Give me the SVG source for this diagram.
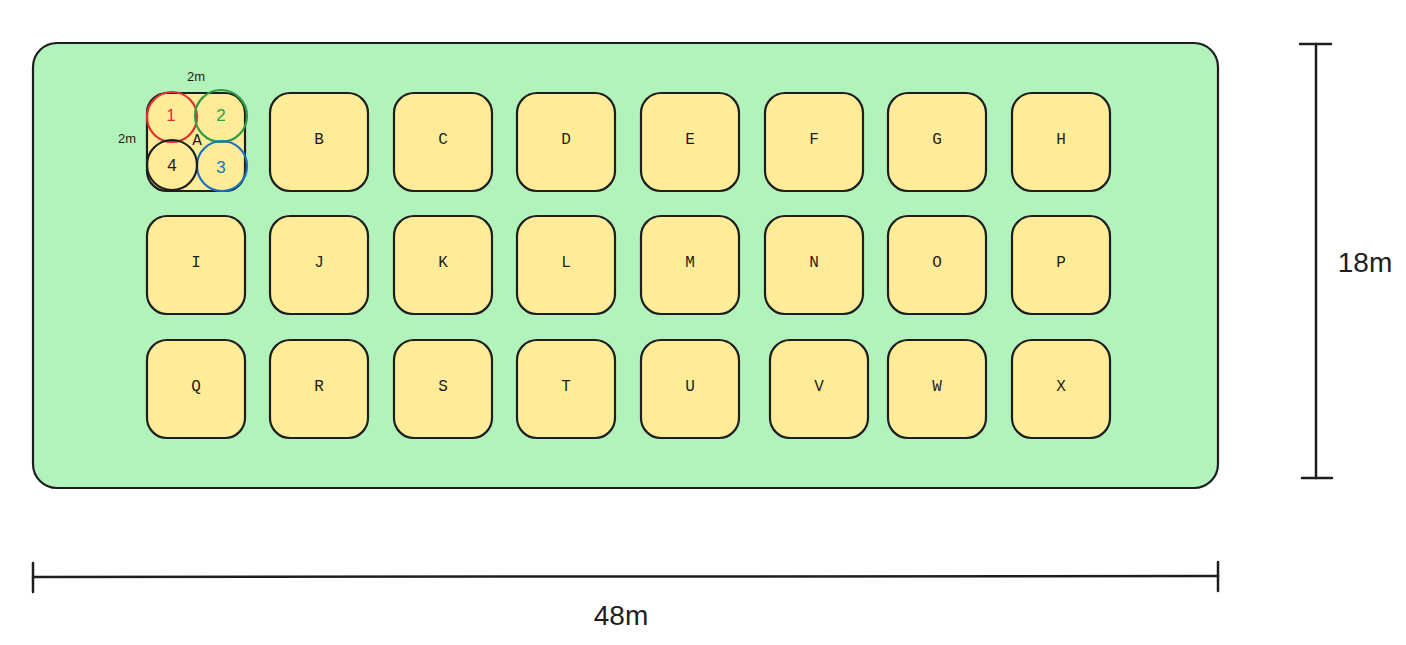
<svg xmlns="http://www.w3.org/2000/svg" width="1406" height="645" viewBox="0 0 1406 645">
<style>
.cell{fill:#ffec99;stroke:#1e1e1e;stroke-width:2.2}
.lbl{font-family:"Liberation Mono",monospace;font-size:16px;fill:#1e1e1e;text-anchor:middle;dominant-baseline:central}
.num{font-family:"Liberation Sans",sans-serif;font-size:17px;text-anchor:middle;dominant-baseline:central}
.dim{font-family:"Liberation Sans",sans-serif;fill:#1e1e1e;text-anchor:middle;dominant-baseline:central}
.ln{stroke:#1e1e1e;stroke-width:2.5;fill:none;stroke-linecap:round}
.circ{fill:none;stroke-width:2.2}
</style>
<rect id="site" x="33" y="43" width="1185" height="445" rx="24" fill="#b2f2bb" stroke="#1e1e1e" stroke-width="2.2"/>
<g id="cell-A">
<rect class="cell" x="147" y="93" width="98" height="98" rx="20"/>
<circle class="circ" cx="172" cy="117" r="25" stroke="#e03131"/>
<circle class="circ" cx="221" cy="116" r="26" stroke="#2f9e44"/>
<circle class="circ" cx="222" cy="166" r="25" stroke="#1971c2"/>
<circle class="circ" cx="172" cy="165" r="25" stroke="#1e1e1e"/>
<text class="num" x="171" y="115" fill="#e03131">1</text>
<text class="num" x="221" y="115" fill="#2f9e44">2</text>
<text class="num" x="221" y="167" fill="#1971c2">3</text>
<text class="num" x="172" y="165" fill="#1e1e1e">4</text>
<text class="lbl" x="197" y="141" font-size="13">A</text>
<text class="dim" x="196" y="76" font-size="13">2m</text>
<text class="dim" x="127" y="138" font-size="13">2m</text>
</g>
<g id="cell-B"><rect class="cell" x="270" y="93" width="98" height="98" rx="20"/><text class="lbl" x="319" y="140">B</text></g>
<g id="cell-C"><rect class="cell" x="394" y="93" width="98" height="98" rx="20"/><text class="lbl" x="443" y="140">C</text></g>
<g id="cell-D"><rect class="cell" x="517" y="93" width="98" height="98" rx="20"/><text class="lbl" x="566" y="140">D</text></g>
<g id="cell-E"><rect class="cell" x="641" y="93" width="98" height="98" rx="20"/><text class="lbl" x="690" y="140">E</text></g>
<g id="cell-F"><rect class="cell" x="765" y="93" width="98" height="98" rx="20"/><text class="lbl" x="814" y="140">F</text></g>
<g id="cell-G"><rect class="cell" x="888" y="93" width="98" height="98" rx="20"/><text class="lbl" x="937" y="140">G</text></g>
<g id="cell-H"><rect class="cell" x="1012" y="93" width="98" height="98" rx="20"/><text class="lbl" x="1061" y="140">H</text></g>
<g id="cell-I"><rect class="cell" x="147" y="216" width="98" height="98" rx="20"/><text class="lbl" x="196" y="263">I</text></g>
<g id="cell-J"><rect class="cell" x="270" y="216" width="98" height="98" rx="20"/><text class="lbl" x="319" y="263">J</text></g>
<g id="cell-K"><rect class="cell" x="394" y="216" width="98" height="98" rx="20"/><text class="lbl" x="443" y="263">K</text></g>
<g id="cell-L"><rect class="cell" x="517" y="216" width="98" height="98" rx="20"/><text class="lbl" x="566" y="263">L</text></g>
<g id="cell-M"><rect class="cell" x="641" y="216" width="98" height="98" rx="20"/><text class="lbl" x="690" y="263">M</text></g>
<g id="cell-N"><rect class="cell" x="765" y="216" width="98" height="98" rx="20"/><text class="lbl" x="814" y="263">N</text></g>
<g id="cell-O"><rect class="cell" x="888" y="216" width="98" height="98" rx="20"/><text class="lbl" x="937" y="263">O</text></g>
<g id="cell-P"><rect class="cell" x="1012" y="216" width="98" height="98" rx="20"/><text class="lbl" x="1061" y="263">P</text></g>
<g id="cell-Q"><rect class="cell" x="147" y="340" width="98" height="98" rx="20"/><text class="lbl" x="196" y="387">Q</text></g>
<g id="cell-R"><rect class="cell" x="270" y="340" width="98" height="98" rx="20"/><text class="lbl" x="319" y="387">R</text></g>
<g id="cell-S"><rect class="cell" x="394" y="340" width="98" height="98" rx="20"/><text class="lbl" x="443" y="387">S</text></g>
<g id="cell-T"><rect class="cell" x="517" y="340" width="98" height="98" rx="20"/><text class="lbl" x="566" y="387">T</text></g>
<g id="cell-U"><rect class="cell" x="641" y="340" width="98" height="98" rx="20"/><text class="lbl" x="690" y="387">U</text></g>
<g id="cell-V"><rect class="cell" x="770" y="340" width="98" height="98" rx="20"/><text class="lbl" x="819" y="387">V</text></g>
<g id="cell-W"><rect class="cell" x="888" y="340" width="98" height="98" rx="20"/><text class="lbl" x="937" y="387">W</text></g>
<g id="cell-X"><rect class="cell" x="1012" y="340" width="98" height="98" rx="20"/><text class="lbl" x="1061" y="387">X</text></g>
<g id="dimensions">
<line class="ln" x1="1316" y1="44" x2="1316" y2="478"/>
<line class="ln" x1="1300" y1="44" x2="1331" y2="44" stroke-width="2"/>
<line class="ln" x1="1302" y1="478" x2="1332" y2="478" stroke-width="2"/>
<text class="dim" x="1365" y="262" font-size="28">18m</text>
<line class="ln" x1="33" y1="577" x2="1218" y2="576"/>
<line class="ln" x1="33" y1="563" x2="33" y2="592" stroke-width="2"/>
<line class="ln" x1="1218" y1="562" x2="1218" y2="591" stroke-width="2"/>
<text class="dim" x="621" y="615" font-size="28">48m</text>
</g>
</svg>
